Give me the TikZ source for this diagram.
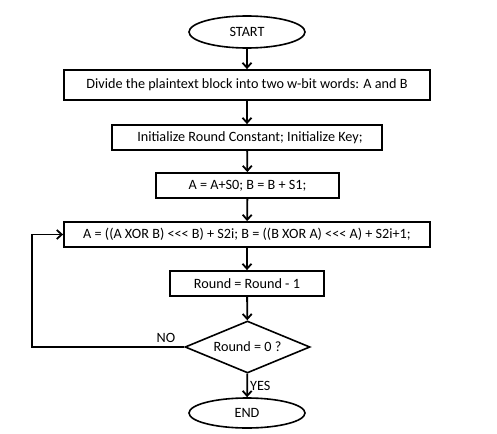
\documentclass[tikz,border=0pt]{standalone}
\usepackage{fontspec}
\setmainfont{Carlito}
\usetikzlibrary{shapes.geometric,arrows.meta}
\begin{document}
\begin{tikzpicture}[x=1pt,y=-1pt,
  every node/.style={font=\fontsize{14.2}{16}\selectfont, inner sep=0pt},
  box/.style={draw, line width=1.8pt, rectangle},
  term/.style={draw, line width=1.6pt, ellipse, minimum width=116pt, minimum height=32pt},
  arr/.style={line width=1.8pt, -{Straight Barb[length=5pt,width=9pt,line width=1.8pt]}}
]
\useasboundingbox (0,0) rectangle (497,433);
\node[term] (start) at (247,32) {START};
\node[box, minimum width=366pt, minimum height=30pt] (divide) at (247,85) {Divide the plaintext block into two w-bit words: A and B};
\node[box, minimum width=270pt, minimum height=25pt] (init) at (247,137.5) {\hspace{6pt}Initialize Round Constant; Initialize Key;};
\node[box, minimum width=183pt, minimum height=25pt] (ab) at (247.5,185.5) {A = A+S0; B = B + S1;};
\node[box, minimum width=366pt, minimum height=25pt] (rnd) at (247,234.5) {A = ((A XOR B) <\kern0pt<\kern0pt< B) + S2i; B = ((B XOR A) <\kern0pt<\kern0pt< A) + S2i+1;};
\node[box, minimum width=154pt, minimum height=25pt] (dec1) at (247,283.5) {Round = Round - 1};
\node[draw, line width=1.6pt, diamond, minimum width=125pt, minimum height=52pt, aspect=2.4] (test) at (247.5,347) {\raisebox{-3pt}{Round = 0 ?}};
\node[term, minimum height=30pt] (end) at (247,413) {END};
\coordinate (lp1) at (32,347);
\coordinate (lp2) at (32,234.5);
\draw[arr] (start) -- (divide);
\draw[arr] (divide) -- (init);
\draw[arr] (init) -- (ab);
\draw[arr] (ab) -- (rnd);
\draw[arr] (rnd) -- (dec1);
\draw[arr] (dec1) -- (test);
\draw[arr] (test) -- node[right=2pt, pos=0.5] (yes) {YES} (end);
\draw[arr] (test.west) -- (lp1) -- (lp2) -- (rnd.west);
\node (no) at (166,338) {NO};
\end{tikzpicture}
\end{document}
